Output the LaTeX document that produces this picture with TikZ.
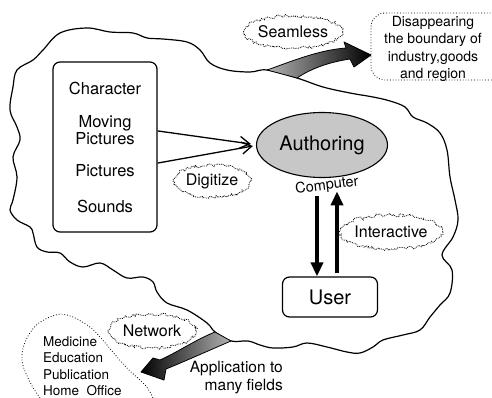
\documentclass[tikz,border=0pt]{standalone}
\usepackage{fontspec}
\setmainfont{TeX Gyre Heros}
\usetikzlibrary{shapes.geometric,arrows.meta,decorations.pathmorphing}

\begin{document}
\pgfmathsetseed{5}
\begin{tikzpicture}[x=1pt, y=-1pt, every node/.style={inner sep=0pt},
  word/.style={font=\fontsize{16.5}{14.5}\selectfont, align=center},
  bigword/.style={font=\fontsize{20}{22}\selectfont},
  fuzzy/.style={ellipse, draw, line width=0.8pt, densely dotted, decorate,
    decoration={random steps, segment length=2pt, amplitude=1.6pt},
    font=\fontsize{16}{16}\selectfont},
  roundbox/.style={draw, rounded corners=7pt, line width=1.2pt},
  dotcloud/.style={dotted, line width=0.8pt},
  feed/.style={line width=1.3pt, -{Straight Barb[length=10pt, width=12pt, line width=1.3pt]}},
  link/.style={line width=3.5pt, -{Triangle[length=14pt, width=12pt]}},
  fat/.style={draw, line width=0.8pt, line join=round}]
\useasboundingbox (0,0) rectangle (492,398);

%cloud
\draw[line width=1.2pt] plot[smooth cycle, tension=0.6] coordinates {
  (60,33) (87,28) (110,32) (133,33) (147,38) (163,39) (187,42) (200,50) (210,63)
  (227,70) (250,72) (267,70) (297,78) (323,87) (350,93) (373,97) (390,101)
  (405,107) (413,117) (427,123) (440,133) (447,150) (450,177) (455,200)
  (458,220) (453,237) (442,255) (452,270) (450,293) (440,305) (430,317)
  (420,330) (403,335) (383,340) (373,347) (360,353) (347,352) (327,347)
  (307,343) (293,347) (273,348) (260,345) (248,341) (231,341) (215,332)
  (207,323) (187,310) (167,303) (157,292) (153,282) (143,277) (127,278)
  (113,270) (100,263) (83,267) (70,262) (60,253) (47,252) (37,247) (33,233)
  (30,227) (17,220) (10,210) (13,200) (17,177) (13,157) (20,140) (17,127)
  (10,110) (13,87) (17,70) (33,60) (43,50)};

%nodes
\node[roundbox, minimum width=104pt, minimum height=170pt] (media) at (105,147) {};
\node[word] (chr) at (105,88) {Character};
\node[word] (mov) [below of=chr, node distance=42pt] {Moving\\Pictures};
\node[word] (pic) [below of=mov, node distance=41pt] {Pictures};
\node[word] (snd) [below of=pic, node distance=35pt] {Sounds};

\node[ellipse, draw, fill=black!22, line width=1.1pt, minimum width=131pt,
  minimum height=65pt, bigword] (auth) at (322,145) {Authoring};
\node[font=\fontsize{14.5}{14}\selectfont, rotate=7] (comp) at (327,186) {Computer};
\node[roundbox, minimum width=95pt, minimum height=40pt, bigword] (user) at (330,297) {User};

\node[fuzzy, minimum width=86pt, minimum height=32pt] (seam) at (293,32) {Seamless};
\node[fuzzy, minimum width=78pt, minimum height=32pt] (digi) at (212,181) {Digitize};
\node[fuzzy, minimum width=88pt, minimum height=34pt] (inter) at (391,232) {Interactive};
\node[fuzzy, minimum width=88pt, minimum height=34pt] (net) at (152,331) {Network};

\node[font=\fontsize{14}{17.3}\selectfont, align=center] (disap) at (433,49)
  {Disappearing\\the boundary of\\industry,goods\\and region};
\node[font=\fontsize{13.5}{16.5}\selectfont, align=left, anchor=west] (fields) at (43,366)
  {Medicine\\Education\\Publication\\Home\ \ Office};
\node[font=\fontsize{15.5}{18}\selectfont, align=right, anchor=east] (apply) at (283,378)
  {Application to\\many fields};

\draw[dotcloud, rounded corners=14pt] (496,13) -- (371,13) -- (371,80) -- (496,80);
\draw[dotcloud] plot[smooth, tension=0.7] coordinates {(40,398) (28,378) (22,355)
  (32,330) (50,317) (67,315) (87,325) (100,337) (125,366) (145,385) (153,398)};

%links
\draw[feed] (media.17) -- ([xshift=-5pt,yshift=1pt]auth.west);
\draw[feed] (media.-17) -- ([xshift=-3pt,yshift=-1pt]auth.west);
\draw[link] ([xshift=-13pt,yshift=80pt]user.north) -- ([xshift=-13pt]user.north);
\draw[link] ([xshift=7pt,yshift=3pt]user.north) -- ([xshift=7pt,yshift=85pt]user.north);

\coordinate (seamA) at (267,70);
\coordinate (seamB) at (297,78);
\coordinate (seamTip) at (371,55);
\shade[fat, left color=black!30, right color=black] (seamA)
  .. controls (290,62) and (318,50) .. (346,48) -- (344,42) -- (seamTip)
  -- (354,67) -- (350,59) .. controls (330,62) and (312,68) .. (seamB) -- cycle;

\coordinate (netA) at (215,332);
\coordinate (netB) at (231,341);
\coordinate (netTip) at (141,372);
\shade[fat, left color=black, right color=black!30] (netA)
  .. controls (195,340) and (178,352) .. (160,360) -- (153,358) -- (netTip)
  -- (164,380) -- (166,369) .. controls (188,360) and (210,350) .. (netB) -- cycle;
\end{tikzpicture}
\end{document}
